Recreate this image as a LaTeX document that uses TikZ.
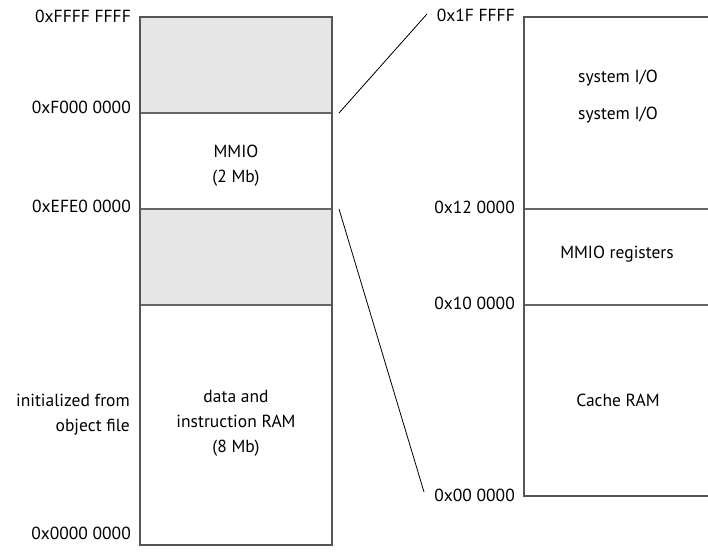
\documentclass[tikz,border=0pt]{standalone}
\usepackage{fontspec}
\setmainfont{PT Sans}
\definecolor{boxgray}{HTML}{555555}
\definecolor{sepgray}{HTML}{666666}
\definecolor{shadegray}{HTML}{E6E6E6}
\newcommand{\mapfont}{\fontsize{17.5}{25}\selectfont}
\begin{document}
\begin{tikzpicture}[x=1pt,y=-1pt,
  boxline/.style={draw=boxgray, line width=1.6pt},
  sepline/.style={draw=sepgray, line width=1.3pt},
  shaded/.style={fill=shadegray},
  addr/.style={anchor=east, inner sep=0pt, font=\mapfont},
  region/.style={align=center, inner sep=0pt, font=\mapfont},
  link/.style={draw=black, line width=0.8pt}]
\useasboundingbox (0,0) rectangle (708,553);

% --- main address space (left column) ---
\coordinate (Ltop) at (140,17);
\coordinate (Lbot) at (332,545);
\fill[shaded] (140,17) rectangle (332,113);
\fill[shaded] (140,209) rectangle (332,305);
\draw[sepline] (140,113) -- (332,113);
\draw[sepline] (140,209) -- (332,209);
\draw[sepline] (140,305) -- (332,305);
\draw[boxline] (Ltop) rectangle (Lbot);

\node[addr] (aFFFF) at (131,16)    {0xFFFF FFFF};
\node[addr] (aF000) at (131,107.5) {0xF000 0000};
\node[addr] (aEFE0) at (131,206.5) {0xEFE0 0000};
\node[addr] (a0000) at (131,533.5) {0x0000 0000};

\node[region] (mmio) at (236,166) {MMIO\\(2 Mb)};
\node[region] (ram)  at (236,423) {data and\\instruction RAM\\(8 Mb)};
\node[region, align=right, anchor=east] (init) at (130,415) {initialized from\\object file};

% --- MMIO window (right column, open to the right) ---
\draw[sepline] (524,209) -- (712,209);
\draw[sepline] (524,305) -- (712,305);
\draw[boxline] (712,17) -- (524,17) -- (524,496) -- (712,496);

\node[addr] (r1F) at (515,15)    {0x1F FFFF};
\node[addr] (r12) at (515,207.5) {0x12 0000};
\node[addr] (r10) at (515,303.5) {0x10 0000};
\node[addr] (r00) at (515,495.5) {0x00 0000};

\node[region, anchor=base] (sys1) at (618,83)  {system I/O};
\node[region, anchor=base] (sys2) at (618,120) {system I/O};
\node[region] (regs)  at (617,254) {MMIO registers};
\node[region] (cache) at (618,400) {Cache RAM};

% --- zoom lines from the MMIO band to the window ---
\coordinate (zTop) at (339,113);
\coordinate (zBot) at (339,209);
\coordinate (wTop) at (427,14);
\coordinate (wBot) at (424,492);
\draw[link] (zTop) -- (wTop);
\draw[link] (zBot) -- (wBot);
\end{tikzpicture}
\end{document}
